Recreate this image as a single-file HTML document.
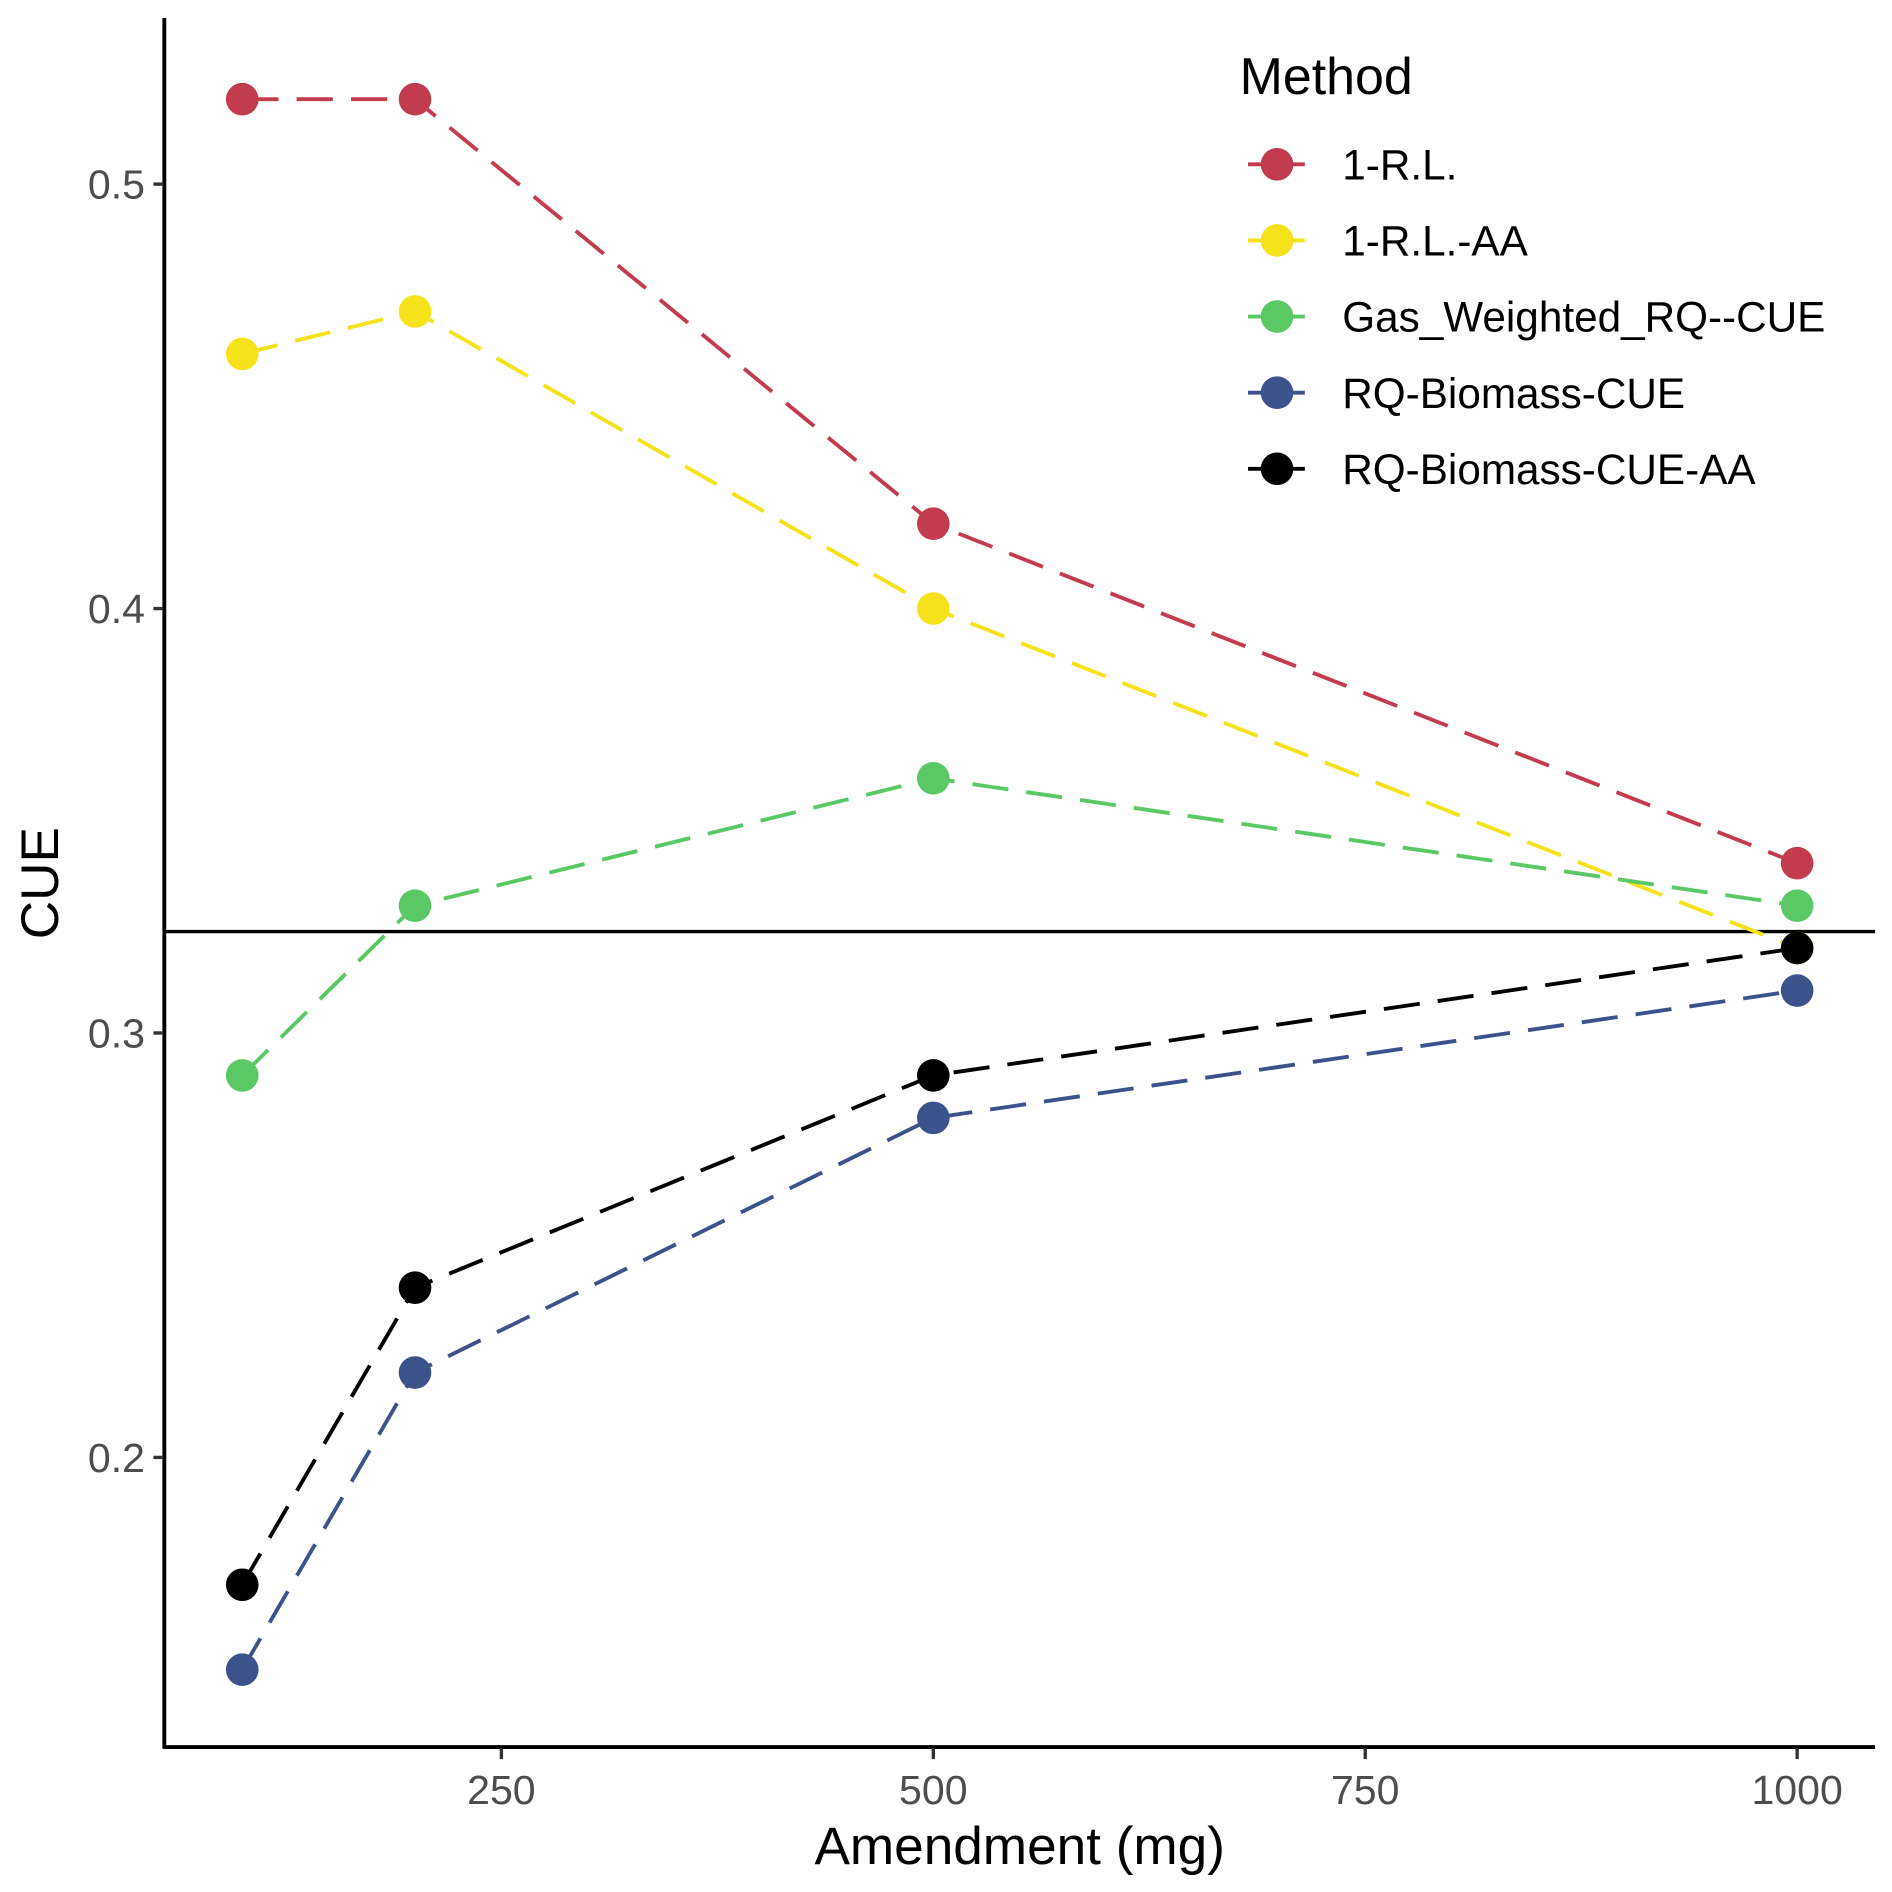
<!DOCTYPE html>
<html><head><meta charset="utf-8"><style>html,body{margin:0;padding:0;background:#fff}svg{display:block}</style></head>
<body>
<svg id="chart" width="1892" height="1892" viewBox="0 0 1566 1566" xmlns="http://www.w3.org/2000/svg" font-family="Liberation Sans, Arial, sans-serif">
<rect width="1566" height="1566" fill="#fff"/>
<g id="plot"></g>
</svg>
<script>
const categories=[100,200,500,1000];
const seriesNames=["1-R.L.","1-R.L.-AA","Gas_Weighted_RQ--CUE","RQ-Biomass-CUE","RQ-Biomass-CUE-AA"];
const seriesColors=["#c33b4f","#f5e21b","#5ac864","#3b528b","#000000"];
const rlValues=[0.52,0.52,0.42,0.34];
const rlAAValues=[0.46,0.47,0.40,0.32];
const gasValues=[0.29,0.33,0.36,0.33];
const rqValues=[0.15,0.22,0.28,0.31];
const rqAAValues=[0.17,0.24,0.29,0.32];
const xTicks=[250,500,750,1000];
const yTicks=[0.2,0.3,0.4,0.5];
const hlineValue=0.3239;
const allSeries=[rlValues,rlAAValues,gasValues,rqValues,rqAAValues];
const NS="http://www.w3.org/2000/svg";
const X=v=>200.5+(v-100)*1.43;
const Y=v=>855-(v-0.3)*3513;
const g=document.getElementById('plot');
function mk(t,a,p){const e=document.createElementNS(NS,t);for(const k in a)e.setAttribute(k,a[k]);(p||g).appendChild(e);return e;}
let hl=mk('line',{x1:136,x2:1552,y1:Y(hlineValue),y2:Y(hlineValue),stroke:'#000','stroke-width':2.8});


allSeries.forEach((vals,i)=>{
  const pts=vals.map((v,j)=>X(categories[j])+','+Y(v)).join(' ');
  const pl=mk('polyline',{points:pts,fill:'none',stroke:seriesColors[i],'stroke-width':3.2,'stroke-dasharray':'30 15'});
  
  
  vals.forEach((v,j)=>{
    const c=mk('circle',{cx:X(categories[j]),cy:Y(v),r:13.5,fill:seriesColors[i]});
    
    
  });
});
let ax=mk('line',{x1:136,x2:1552,y1:1446,y2:1446,stroke:'#000','stroke-width':3.2});


let ay=mk('line',{x1:136,x2:136,y1:15,y2:1447.5,stroke:'#000','stroke-width':3.2});


xTicks.forEach(t=>{
  const tk=mk('line',{x1:X(t),x2:X(t),y1:1447,y2:1456,stroke:'#333','stroke-width':2.8});
  
  
  const tx=mk('text',{x:X(t),y:1493,'text-anchor':'middle','font-size':34,fill:'#4d4d4d'});
  tx.textContent=t;
  
  
});
yTicks.forEach(t=>{
  const tk=mk('line',{x1:127,x2:135,y1:Y(t),y2:Y(t),stroke:'#333','stroke-width':2.8});
  
  
  const tx=mk('text',{x:120,y:Y(t)+12,'text-anchor':'end','font-size':34,fill:'#4d4d4d'});
  tx.textContent=t.toFixed(1);
  
  
});
let xt=mk('text',{x:844,y:1543,'text-anchor':'middle','font-size':44,fill:'#000'});
xt.textContent='Amendment (mg)';


let yt=mk('text',{x:0,y:0,'text-anchor':'middle','font-size':44,fill:'#000',transform:'translate(48,731) rotate(-90)'});
yt.textContent='CUE';


let lt=mk('text',{x:1026,y:78,'font-size':43,fill:'#000'});
lt.textContent='Method';


seriesNames.forEach((n,i)=>{
  const y=136+i*63;
  const lg=mk('g',{});
  
  
  mk('line',{x1:1033,x2:1080,y1:y,y2:y,stroke:seriesColors[i],'stroke-width':3.2},lg);
  mk('circle',{cx:1057,cy:y,r:13.5,fill:seriesColors[i]},lg);
  const tx=mk('text',{x:1111,y:y+12.5,'font-size':35,fill:'#000'},lg);
  tx.textContent=n;
});
</script>
</body></html>
